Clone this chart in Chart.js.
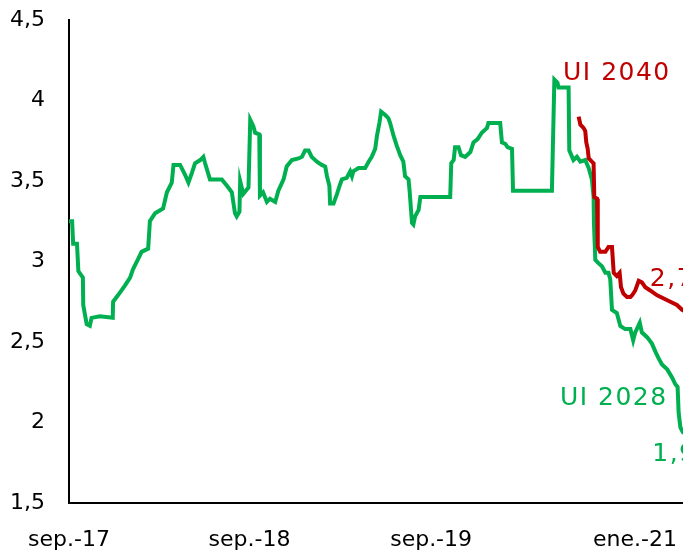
<!DOCTYPE html>
<html>
<head>
<meta charset="utf-8">
<script src="https://cdn.jsdelivr.net/npm/chart.js@4.4.1/dist/chart.umd.min.js"></script>
<style>
	html, body { margin:0; padding:0; background:#fff; overflow:hidden; }
	#wrap { width:760px; height:557px; }
</style>
</head>
<body>
<div id="wrap"><canvas id="grafico" width="760" height="557"></canvas></div>
<script>
// semanas desde sep.-17 (eje x) y tasas
var ui2028Semanas = [0, 0.9, 1.2, 2.3, 2.7, 4.0, 4.1, 5.1, 6.0, 6.5, 8.9, 12.6, 12.7, 14.1, 16.1, 17.6, 18.4, 20.0, 20.9, 22.8,
	23.3, 24.8, 27.1, 28.2, 29.6, 30.1, 32.0, 33.4, 34.4, 35.4, 36.3, 37.8, 38.7, 39.2, 40.6, 44.0, 45.5, 46.9, 47.8, 48.3,
	49.1, 49.3, 50.2, 51.7, 52.2, 53.1, 53.6, 54.8, 55.0, 55.9, 57.0, 57.9, 59.4, 60.3, 61.8, 62.7, 64.2, 66.1, 67.1, 68.0,
	69.0, 69.9, 71.4, 72.8, 73.8, 74.3, 75.0, 75.2, 76.2, 77.2, 78.1, 78.6, 80.0, 81.0, 81.5, 81.9, 83.4, 85.3, 86.3, 87.2,
	88.2, 88.7, 89.4, 89.9, 91.1, 92.0, 92.5, 93.5, 94.4, 95.4, 96.3, 96.8, 97.8, 98.1, 98.8, 99.2, 99.7, 100.7, 101.2, 109.8,
	110.1, 110.8, 111.2, 112.2, 112.9, 114.1, 115.6, 116.5, 117.7, 118.9, 120.4, 120.8, 124.2, 124.7, 125.7, 126.3, 127.6, 127.9, 139.1, 139.8,
	140.7, 141.0, 143.9, 144.1, 144.9, 145.3, 146.3, 147.3, 148.7, 149.7, 150.6, 151.1, 151.2, 151.6, 152.5, 153.5, 154.5, 155.4, 155.9, 156.4,
	157.8, 158.8, 160.2, 161.7, 162.5, 163.1, 164.4, 165.0, 166.5, 167.9, 168.9, 169.8, 170.8, 172.3, 173.7, 174.6, 175.3, 175.6, 176.1, 176.8,
	177.5];
var ui2028Valores = [3.25, 3.25, 3.11, 3.11, 2.94, 2.90, 2.73, 2.61, 2.60, 2.65, 2.66, 2.65, 2.75, 2.79, 2.85, 2.90, 2.95, 3.02, 3.06, 3.08,
	3.25, 3.30, 3.33, 3.43, 3.49, 3.60, 3.60, 3.54, 3.49, 3.55, 3.61, 3.63, 3.65, 3.61, 3.51, 3.51, 3.47, 3.43, 3.30, 3.28,
	3.31, 3.50, 3.42, 3.46, 3.88, 3.84, 3.80, 3.79, 3.41, 3.43, 3.37, 3.39, 3.37, 3.44, 3.51, 3.59, 3.63, 3.64, 3.65, 3.69,
	3.69, 3.65, 3.62, 3.60, 3.59, 3.53, 3.47, 3.36, 3.36, 3.42, 3.48, 3.51, 3.52, 3.56, 3.53, 3.56, 3.58, 3.58, 3.62, 3.65,
	3.70, 3.78, 3.86, 3.93, 3.91, 3.89, 3.86, 3.78, 3.72, 3.66, 3.62, 3.53, 3.51, 3.44, 3.24, 3.23, 3.28, 3.32, 3.40, 3.40,
	3.61, 3.63, 3.71, 3.71, 3.66, 3.65, 3.68, 3.74, 3.76, 3.80, 3.83, 3.86, 3.86, 3.74, 3.73, 3.71, 3.70, 3.44, 3.44, 4.13,
	4.11, 4.08, 4.08, 3.69, 3.65, 3.63, 3.65, 3.62, 3.63, 3.58, 3.51, 3.40, 3.24, 3.01, 2.99, 2.97, 2.93, 2.93, 2.89, 2.70,
	2.68, 2.60, 2.58, 2.58, 2.51, 2.56, 2.62, 2.56, 2.53, 2.49, 2.44, 2.40, 2.36, 2.33, 2.28, 2.24, 2.22, 2.06, 1.97, 1.94,
	1.93];

var ui2040Semanas = [146.8, 147.3, 148.2, 148.7, 149.0, 149.4, 149.7, 150.6, 151.1, 151.3, 152.1, 152.3, 153.0, 154.5, 155.4, 156.4, 156.9, 157.8,
	158.6, 159.0, 159.7, 160.7, 161.7, 162.2, 163.1, 164.1, 165.0, 166.0, 167.4, 169.4, 171.3, 173.2, 175.1, 176.6, 177.5];
var ui2040Valores = [3.90, 3.85, 3.83, 3.81, 3.74, 3.70, 3.64, 3.62, 3.61, 3.40, 3.39, 3.09, 3.06, 3.06, 3.09, 3.09, 2.93, 2.91,
	2.93, 2.84, 2.80, 2.78, 2.78, 2.79, 2.82, 2.88, 2.87, 2.84, 2.82, 2.79, 2.77, 2.75, 2.73, 2.70, 2.69];

// etiquetas del eje x
var tickSemanas = [0, 52, 104.3, 163];
var tickEtiquetas = ['sep.-17', 'sep.-18', 'sep.-19', 'ene.-21'];

var verde = '#00b050';
var rojo = '#c00000';

function puntos(xs, ys){
	var arr = new Array();
	for(var i = 0; i < xs.length; i++){
		arr.push({x: xs[i], y: ys[i]});
	}
	return arr;
}

function coma(v, dec){
	return v.toFixed(dec).replace('.', ',');
}

// textos sobre el grafico (nombre de serie y ultimo valor)
var textos = [
	{texto: 'UI 2040', color: rojo, x: 142.3, y: 4.17},
	{texto: coma(ui2040Valores[ui2040Valores.length - 1], 1), color: rojo, x: 167.3, y: 2.89},
	{texto: 'UI 2028', color: verde, x: 141.4, y: 2.15},
	{texto: coma(ui2028Valores[ui2028Valores.length - 1], 1), color: verde, x: 168.0, y: 1.80}
];

var pluginTextos = {
	id: 'textos',
	afterDatasetsDraw: function(chart){
		var ctx = chart.ctx;
		var sx = chart.scales.x, sy = chart.scales.y;
		ctx.save();
		ctx.font = '25px "DejaVu Sans"';
		ctx.letterSpacing = '1.5px';
		ctx.textAlign = 'left';
		ctx.textBaseline = 'middle';
		textos.forEach(function(t){
			ctx.fillStyle = t.color;
			ctx.fillText(t.texto, sx.getPixelForValue(t.x), sy.getPixelForValue(t.y));
		});
		ctx.restore();
	}
};

var config = {
	type: 'line',
	data: {
		datasets: [
			{
				label: 'UI 2040',
				data: puntos(ui2040Semanas, ui2040Valores),
				borderColor: rojo,
				borderWidth: 4,
				pointRadius: 0,
				tension: 0,
				fill: false
			},
			{
				label: 'UI 2028',
				data: puntos(ui2028Semanas, ui2028Valores),
				borderColor: verde,
				borderWidth: 4,
				pointRadius: 0,
				tension: 0,
				fill: false
			}
		]
	},
	options: {
		responsive: false,
		animation: false,
		layout: { padding: { top: 20, right: 14, bottom: 0, left: 0 } },
		plugins: {
			legend: { display: false },
			tooltip: { enabled: false }
		},
		scales: {
			x: {
				type: 'linear',
				min: 0,
				max: 195,
				grid: { display: false, drawTicks: false },
				border: { display: true, color: '#000', width: 2 },
				afterBuildTicks: function(scale){
					scale.ticks = tickSemanas.map(function(v){ return {value: v}; });
				},
				afterFit: function(scale){
					scale.height = 54;
					scale.paddingLeft = 0;
					scale.paddingRight = 0;
				},
				ticks: {
					autoSkip: false,
					maxRotation: 0,
					padding: 24,
					color: '#000',
					font: { family: 'DejaVu Sans', size: 22 },
					callback: function(value){
						var i = tickSemanas.indexOf(value);
						return i >= 0 ? tickEtiquetas[i] : '';
					}
				}
			},
			y: {
				min: 1.5,
				max: 4.5,
				grid: { display: false, drawTicks: false },
				border: { display: true, color: '#000', width: 2 },
				afterFit: function(scale){
					scale.width = 69;
					scale.paddingTop = 0;
					scale.paddingBottom = 0;
				},
				ticks: {
					stepSize: 0.5,
					padding: 24,
					color: '#000',
					font: { family: 'DejaVu Sans', size: 22 },
					callback: function(value){
						return String(value).replace('.', ',');
					}
				}
			}
		}
	},
	plugins: [pluginTextos]
};

var grafico = new Chart(document.getElementById('grafico'), config);
</script>
</body>
</html>
